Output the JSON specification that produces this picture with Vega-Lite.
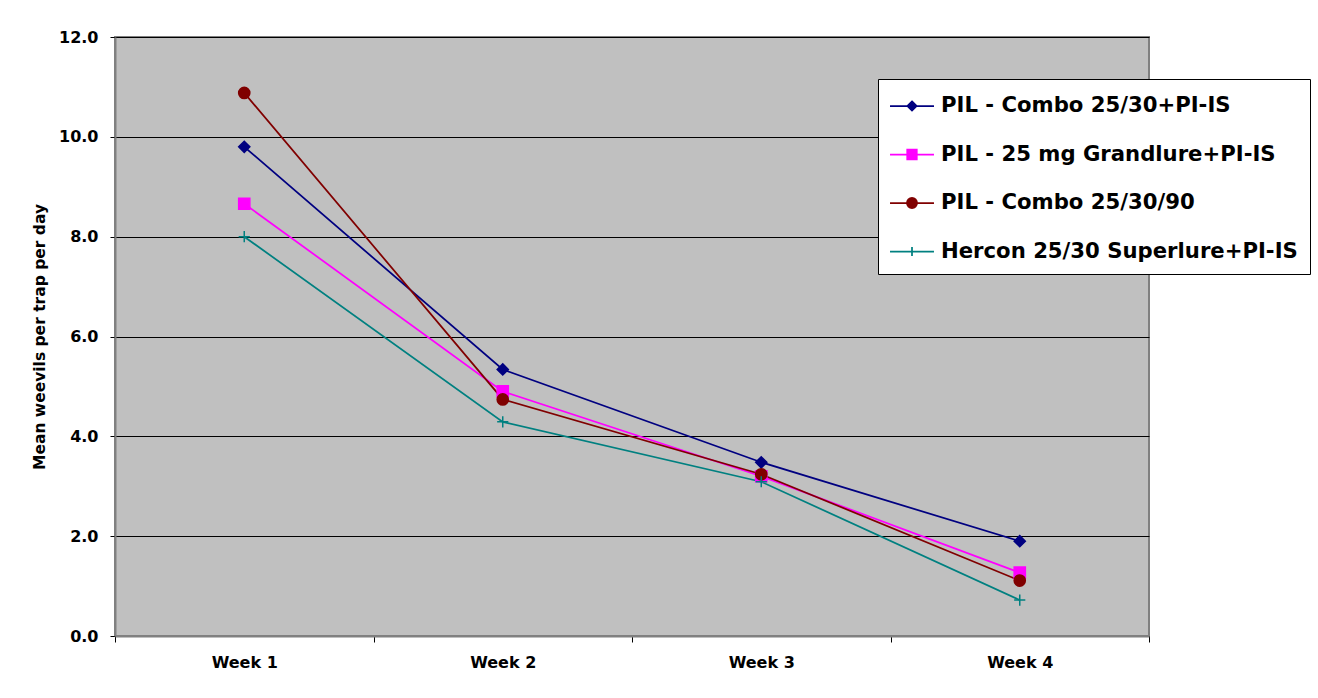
{
  "$schema": "https://vega.github.io/schema/vega-lite/v6.json",
  "width": 1034,
  "height": 599,
  "autosize": {"type": "none"},
  "padding": {"left": 115, "top": 37, "right": 169, "bottom": 62},
  "background": "white",
  "config": {
    "view": {"fill": "#C0C0C0", "stroke": "#808080", "strokeWidth": 2},
    "font": "DejaVu Sans"
  },
  "data": {
    "values": [
      {"week": "Week 1", "series": "PIL - Combo 25/30+PI-IS", "value": 9.80},
      {"week": "Week 2", "series": "PIL - Combo 25/30+PI-IS", "value": 5.34},
      {"week": "Week 3", "series": "PIL - Combo 25/30+PI-IS", "value": 3.48},
      {"week": "Week 4", "series": "PIL - Combo 25/30+PI-IS", "value": 1.90},
      {"week": "Week 1", "series": "PIL - 25 mg Grandlure+PI-IS", "value": 8.66},
      {"week": "Week 2", "series": "PIL - 25 mg Grandlure+PI-IS", "value": 4.90},
      {"week": "Week 3", "series": "PIL - 25 mg Grandlure+PI-IS", "value": 3.20},
      {"week": "Week 4", "series": "PIL - 25 mg Grandlure+PI-IS", "value": 1.27},
      {"week": "Week 1", "series": "PIL - Combo 25/30/90", "value": 10.88},
      {"week": "Week 2", "series": "PIL - Combo 25/30/90", "value": 4.74},
      {"week": "Week 3", "series": "PIL - Combo 25/30/90", "value": 3.24},
      {"week": "Week 4", "series": "PIL - Combo 25/30/90", "value": 1.11},
      {"week": "Week 1", "series": "Hercon 25/30 Superlure+PI-IS", "value": 8.00},
      {"week": "Week 2", "series": "Hercon 25/30 Superlure+PI-IS", "value": 4.29},
      {"week": "Week 3", "series": "Hercon 25/30 Superlure+PI-IS", "value": 3.09},
      {"week": "Week 4", "series": "Hercon 25/30 Superlure+PI-IS", "value": 0.72}
    ]
  },
  "encoding": {
    "x": {
      "field": "week",
      "type": "nominal",
      "title": null,
      "scale": {"type": "band", "paddingInner": 0, "paddingOuter": 0},
      "axis": {
        "tickBand": "extent",
        "tickSize": 6,
        "tickColor": "black",
        "domainColor": "#808080",
        "domainWidth": 2,
        "labelAngle": 0,
        "labelFont": "DejaVu Sans",
        "labelFontWeight": "bold",
        "labelFontSize": 16,
        "labelColor": "black",
        "labelPadding": 12,
        "grid": false
      }
    },
    "y": {
      "field": "value",
      "type": "quantitative",
      "title": "Mean weevils per trap per day",
      "scale": {"domain": [0, 12], "nice": false},
      "axis": {
        "values": [0, 2, 4, 6, 8, 10, 12],
        "format": ".1f",
        "grid": true,
        "gridColor": "black",
        "gridWidth": 1,
        "tickSize": 5,
        "tickColor": "black",
        "domainColor": "#808080",
        "domainWidth": 2,
        "labelFont": "DejaVu Sans",
        "labelFontWeight": "bold",
        "labelFontSize": 16,
        "labelColor": "black",
        "labelPadding": 12,
        "titleFont": "DejaVu Sans",
        "titleFontWeight": "bold",
        "titleFontSize": 15.5,
        "titleColor": "black",
        "titlePadding": 11
      }
    }
  },
  "layer": [
    {
      "mark": {"type": "line", "strokeWidth": 1.75},
      "encoding": {
        "stroke": {
          "field": "series",
          "type": "nominal",
          "scale": {
            "domain": ["PIL - Combo 25/30+PI-IS", "PIL - 25 mg Grandlure+PI-IS", "PIL - Combo 25/30/90", "Hercon 25/30 Superlure+PI-IS"],
            "range": ["#000080", "#FF00FF", "#800000", "#008080"]
          },
          "legend": null
        }
      }
    },
    {
      "mark": {"type": "point", "size": 125, "opacity": 1, "strokeWidth": 1.5},
      "encoding": {
        "shape": {
          "field": "series",
          "type": "nominal",
          "scale": {
            "domain": ["PIL - Combo 25/30+PI-IS", "PIL - 25 mg Grandlure+PI-IS", "PIL - Combo 25/30/90", "Hercon 25/30 Superlure+PI-IS"],
            "range": ["diamond", "square", "circle", "M-1,0L1,0M0,-1L0,1"]
          },
          "legend": null
        },
        "fill": {
          "field": "series",
          "type": "nominal",
          "scale": {
            "domain": ["PIL - Combo 25/30+PI-IS", "PIL - 25 mg Grandlure+PI-IS", "PIL - Combo 25/30/90", "Hercon 25/30 Superlure+PI-IS"],
            "range": ["#000080", "#FF00FF", "#800000", "#008080"]
          },
          "legend": null
        },
        "stroke": {
          "field": "series",
          "type": "nominal",
          "scale": {
            "domain": ["PIL - Combo 25/30+PI-IS", "PIL - 25 mg Grandlure+PI-IS", "PIL - Combo 25/30/90", "Hercon 25/30 Superlure+PI-IS"],
            "range": ["#000080", "#FF00FF", "#800000", "#008080"]
          },
          "legend": null
        }
      }
    },
    {
      "transform": [{"filter": "false"}],
      "mark": {"type": "point", "size": 784, "opacity": 1, "strokeWidth": 1.75},
      "encoding": {
        "shape": {
          "field": "series",
          "type": "nominal",
          "scale": {
            "domain": ["PIL - Combo 25/30+PI-IS", "PIL - 25 mg Grandlure+PI-IS", "PIL - Combo 25/30/90", "Hercon 25/30 Superlure+PI-IS"],
            "range": [
              "M-1.57,0L1.57,0M0,-0.33L0.33,0L0,0.33L-0.33,0Z",
              "M-1.57,0L1.57,0M-0.34,-0.34L0.34,-0.34L0.34,0.34L-0.34,0.34Z",
              "M-1.57,0L1.57,0M0.36,0A0.36,0.36,0,1,1,-0.36,0A0.36,0.36,0,1,1,0.36,0Z",
              "M-1.57,0L1.57,0M0,-0.33L0,0.33"
            ]
          },
          "legend": {
            "title": null,
            "orient": "none",
            "legendX": 763,
            "legendY": 42,
            "fillColor": "white",
            "strokeColor": "black",
            "padding": 12,
            "symbolOffset": 7,
            "labelOffset": 14,
            "rowPadding": 22.5,
            "symbolSize": 784,
            "symbolStrokeWidth": 1.75,
            "labelFont": "DejaVu Sans",
            "labelFontSize": 21.2,
            "labelFontWeight": "bold",
            "labelColor": "black",
            "labelLimit": 500
          }
        },
        "fill": {
          "field": "series",
          "type": "nominal",
          "scale": {
            "domain": ["PIL - Combo 25/30+PI-IS", "PIL - 25 mg Grandlure+PI-IS", "PIL - Combo 25/30/90", "Hercon 25/30 Superlure+PI-IS"],
            "range": ["#000080", "#FF00FF", "#800000", "#008080"]
          }
        },
        "stroke": {
          "field": "series",
          "type": "nominal",
          "scale": {
            "domain": ["PIL - Combo 25/30+PI-IS", "PIL - 25 mg Grandlure+PI-IS", "PIL - Combo 25/30/90", "Hercon 25/30 Superlure+PI-IS"],
            "range": ["#000080", "#FF00FF", "#800000", "#008080"]
          }
        }
      }
    }
  ],
  "resolve": {
    "scale": {"shape": "independent", "fill": "independent", "stroke": "independent"},
    "legend": {"shape": "independent", "fill": "independent", "stroke": "independent"}
  }
}
